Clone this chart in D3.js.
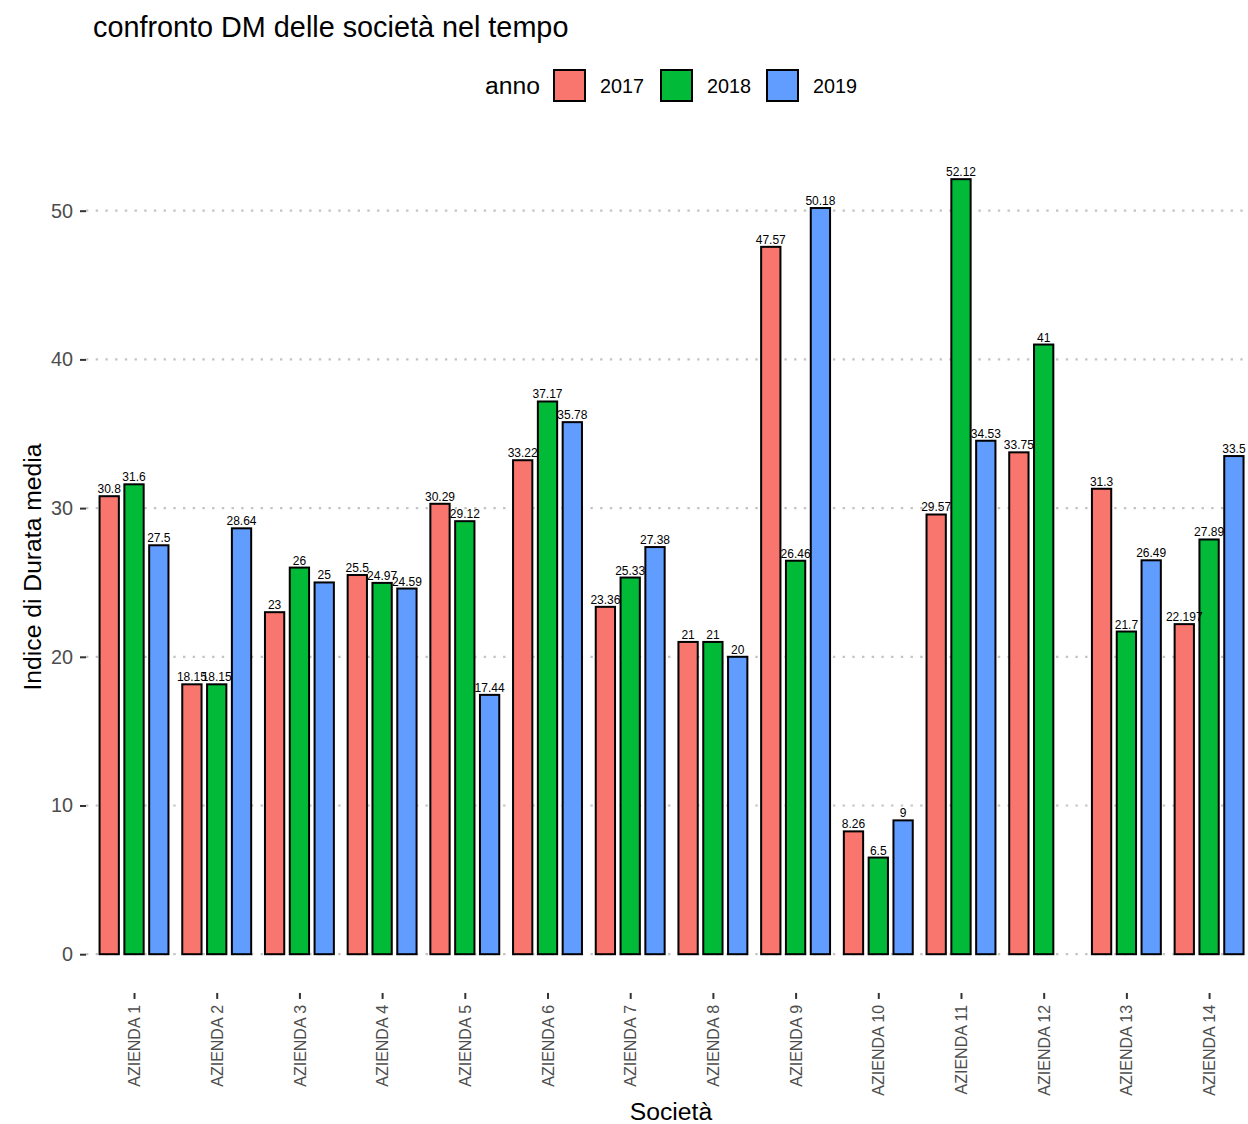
<!DOCTYPE html>
<html>
<head>
<meta charset="utf-8">
<script src="https://cdn.jsdelivr.net/npm/d3@7"></script>
<style>
  body { margin: 0; background: #ffffff; }
  svg { display: block; font-family: "Liberation Sans", Arial, sans-serif; }
</style>
</head>
<body>
<svg id="chart" width="1248" height="1124"></svg>
<script>
const categories = ["AZIENDA 1","AZIENDA 2","AZIENDA 3","AZIENDA 4","AZIENDA 5","AZIENDA 6","AZIENDA 7","AZIENDA 8","AZIENDA 9","AZIENDA 10","AZIENDA 11","AZIENDA 12","AZIENDA 13","AZIENDA 14"];
const years = ["2017","2018","2019"];
const values2017 = [30.8, 18.15, 23, 25.5, 30.29, 33.22, 23.36, 21, 47.57, 8.26, 29.57, 33.75, 31.3, 22.197];
const values2018 = [31.6, 18.15, 26, 24.97, 29.12, 37.17, 25.33, 21, 26.46, 6.5, 52.12, 41, 21.7, 27.89];
const values2019 = [27.5, 28.64, 25, 24.59, 17.44, 35.78, 27.38, 20, 50.18, 9, 34.53, null, 26.49, 33.5];
const yTicks = [0, 10, 20, 30, 40, 50];
const colors = ["#F8766D", "#00BA38", "#619CFF"];

const seriesValues = [values2017, values2018, values2019];
const rows = [];
categories.forEach((c, i) => {
  years.forEach((yr, j) => {
    const v = seriesValues[j][i];
    if (v !== null && v !== undefined) rows.push({cat: c, year: yr, value: v});
  });
});

const svg = d3.select("#chart");
svg.append("rect").attr("width", 1248).attr("height", 1124).attr("fill", "#ffffff");

// panel geometry
const panelLeft = 84.4, panelRight = 1258.7;
const yMax = d3.max(rows, d => d.value);
const yExp = yMax * 0.05;
const y = d3.scaleLinear().domain([0, 50]).range([954.2, 210.7]);
const panelBottom = y(-yExp);

const x = d3.scalePoint().domain(categories).range([panelLeft, panelRight]).padding(0.6);
const step = x.step();
const xSub = d3.scaleBand().domain(years).range([-0.45 * step, 0.45 * step]);
const barW = 0.7 / 3 * step;
const color = d3.scaleOrdinal().domain(years).range(colors);

// gridlines
svg.append("g").selectAll("line").data(yTicks).join("line")
  .attr("x1", 86).attr("x2", 1258)
  .attr("y1", d => y(d)).attr("y2", d => y(d))
  .attr("stroke", "#C4C4C4").attr("stroke-width", 2.2)
  .attr("stroke-dasharray", "2.4,7.3");

// bars
const cx = d => x(d.cat) + xSub(d.year) + xSub.bandwidth() / 2;
svg.append("g").selectAll("rect").data(rows).join("rect")
  .attr("x", d => cx(d) - barW / 2)
  .attr("y", d => y(d.value))
  .attr("width", barW)
  .attr("height", d => y(0) - y(d.value))
  .attr("fill", d => color(d.year))
  .attr("stroke", "#000000").attr("stroke-width", 2);

// bar labels
svg.append("g").selectAll("text").data(rows).join("text")
  .attr("x", d => cx(d))
  .attr("y", d => y(d.value) - 3)
  .attr("text-anchor", "middle")
  .attr("font-size", "12px")
  .attr("fill", "#000000")
  .text(d => String(d.value));

// y axis
const yAxis = d3.axisLeft(y).tickValues(yTicks).tickSize(6).tickPadding(7).tickFormat(d3.format("d"));
const gy = svg.append("g").attr("transform", `translate(86,0)`).call(yAxis);
gy.select(".domain").remove();
gy.selectAll(".tick line").attr("stroke", "#333333").attr("stroke-width", 2);
gy.selectAll(".tick text").attr("fill", "#4D4D4D").attr("font-size", "19.8px").attr("font-family", "Liberation Sans, Arial, sans-serif");

// x axis
const xAxis = d3.axisBottom(x).tickSize(6).tickPadding(0);
const gx = svg.append("g").attr("transform", `translate(0,${panelBottom})`).call(xAxis);
gx.select(".domain").remove();
gx.selectAll(".tick line").attr("stroke", "#333333").attr("stroke-width", 2);
gx.selectAll(".tick text")
  .attr("fill", "#4D4D4D").attr("font-size", "16px").attr("font-family", "Liberation Sans, Arial, sans-serif")
  .attr("transform", "translate(0,12) rotate(-90)")
  .attr("text-anchor", "end")
  .attr("x", 0).attr("y", 0).attr("dy", "0.35em");

// axis titles
svg.append("text").attr("x", 671).attr("y", 1120).attr("text-anchor", "middle")
  .attr("font-size", "24.7px").attr("fill", "#000").text("Società");
svg.append("text").attr("transform", "translate(41,567) rotate(-90)").attr("text-anchor", "middle")
  .attr("font-size", "24.7px").attr("fill", "#000").text("Indice di Durata media");

// title
svg.append("text").attr("x", 93).attr("y", 37).attr("font-size", "28.8px").attr("fill", "#000")
  .text("confronto DM delle società nel tempo");

// legend
const lg = svg.append("g");
lg.append("text").attr("x", 485).attr("y", 94).attr("font-size", "24.7px").attr("fill", "#000").text("anno");
const keyX = [553, 660, 766];
years.forEach((yr, j) => {
  lg.append("rect").attr("x", keyX[j] + 1).attr("y", 70).attr("width", 31).attr("height", 31)
    .attr("fill", colors[j]).attr("stroke", "#000").attr("stroke-width", 2);
  lg.append("text").attr("x", keyX[j] + 47).attr("y", 93).attr("font-size", "19.8px").attr("fill", "#000").text(yr);
});
</script>
</body>
</html>
